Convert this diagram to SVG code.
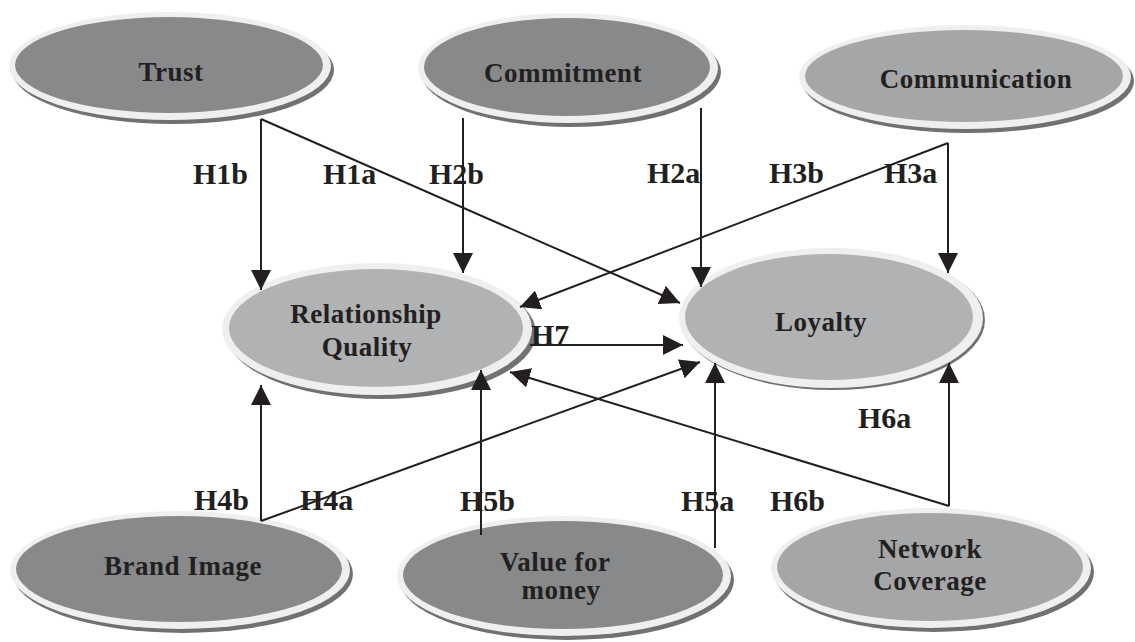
<svg xmlns="http://www.w3.org/2000/svg" width="1135" height="642" viewBox="0 0 1135 642">
<style>
.shadow{fill:#707173}
.rim{fill:#eeeff0}
.dark{fill:#88898b}
.mid{fill:#a5a6a8}
.light{fill:#b1b2b4}
.nt{font-family:"Liberation Serif",serif;font-weight:bold;font-size:27px;fill:#231f20;text-anchor:middle;letter-spacing:0.5px}
.lb{font-family:"Liberation Serif",serif;font-weight:bold;font-size:30px;fill:#231f20}
.ln{stroke:#231f20;stroke-width:2;fill:none}
.ar{marker-end:url(#ah)}
</style>
<defs>
<marker id="ah" viewBox="0 0 20 20" refX="20" refY="10" markerWidth="20" markerHeight="20" markerUnits="userSpaceOnUse" orient="auto">
<path d="M0,0 L20,10 L0,20 z" fill="#231f20"/>
</marker>
</defs>
<rect width="1135" height="642" fill="#ffffff"/>

<g id="trust">
<ellipse class="shadow" cx="173" cy="70" rx="161" ry="54"/>
<ellipse class="rim" cx="170" cy="66" rx="161" ry="54"/>
<ellipse class="dark" cx="169" cy="65" rx="154" ry="48"/>
<text class="nt" x="171" y="81">Trust</text>
</g>
<g id="commitment">
<ellipse class="shadow" cx="571" cy="72" rx="150" ry="55"/>
<ellipse class="rim" cx="568" cy="68" rx="150" ry="55"/>
<ellipse class="dark" cx="567" cy="67" rx="143" ry="49"/>
<text class="nt" x="563" y="82">Commitment</text>
</g>
<g id="communication">
<ellipse class="shadow" cx="968" cy="81" rx="166" ry="52"/>
<ellipse class="rim" cx="965" cy="77" rx="166" ry="52"/>
<ellipse class="mid" cx="964" cy="76" rx="159" ry="46"/>
<text class="nt" x="976" y="88">Communication</text>
</g>
<g id="relationship-quality">
<ellipse class="shadow" cx="381" cy="333" rx="155" ry="66"/>
<ellipse class="rim" cx="377" cy="329" rx="155" ry="66"/>
<ellipse class="light" cx="376" cy="328" rx="147" ry="59"/>
<text class="nt" x="366" y="323">Relationship</text>
<text class="nt" x="367" y="356">Quality</text>
</g>
<g id="loyalty">
<ellipse class="shadow" cx="833" cy="320" rx="152" ry="70"/>
<ellipse class="rim" cx="831" cy="318" rx="152" ry="70"/>
<ellipse class="light" cx="829" cy="317" rx="144" ry="63"/>
<text class="nt" x="821" y="331">Loyalty</text>
</g>
<g id="brand-image">
<ellipse class="shadow" cx="183" cy="574" rx="170" ry="59"/>
<ellipse class="rim" cx="180" cy="570" rx="170" ry="59"/>
<ellipse class="dark" cx="179" cy="569" rx="163" ry="53"/>
<text class="nt" x="183" y="575">Brand Image</text>
</g>
<g id="value-for-money">
<ellipse class="shadow" cx="567" cy="580" rx="167" ry="60"/>
<ellipse class="rim" cx="564" cy="576" rx="167" ry="60"/>
<ellipse class="dark" cx="563" cy="575" rx="160" ry="54"/>
<text class="nt" x="555" y="571">Value for</text>
<text class="nt" x="561" y="599">money</text>
</g>
<g id="network-coverage">
<ellipse class="shadow" cx="934" cy="572" rx="160" ry="60"/>
<ellipse class="rim" cx="931" cy="568" rx="160" ry="60"/>
<ellipse class="mid" cx="930" cy="567" rx="153" ry="54"/>
<text class="nt" x="930" y="558">Network</text>
<text class="nt" x="930" y="590">Coverage</text>
</g>

<g id="labels">
<text class="lb" x="193" y="184">H1b</text>
<text class="lb" x="323" y="184">H1a</text>
<text class="lb" x="429" y="184">H2b</text>
<text class="lb" x="647" y="183">H2a</text>
<text class="lb" x="769" y="183">H3b</text>
<text class="lb" x="884" y="183">H3a</text>
<text class="lb" x="531" y="345">H7</text>
<text class="lb" x="858" y="428">H6a</text>
<text class="lb" x="194" y="510">H4b</text>
<text class="lb" x="300" y="510">H4a</text>
<text class="lb" x="460" y="511">H5b</text>
<text class="lb" x="681" y="511">H5a</text>
<text class="lb" x="770" y="511">H6b</text>
</g>

<g id="connectors">
<line class="ln ar" x1="261" y1="119" x2="261" y2="290"/>
<line class="ln ar" x1="261" y1="119" x2="680" y2="303"/>
<line class="ln ar" x1="463" y1="118" x2="463" y2="273"/>
<line class="ln ar" x1="701" y1="108" x2="701" y2="287"/>
<line class="ln ar" x1="948" y1="143" x2="948" y2="273"/>
<line class="ln ar" x1="948" y1="143" x2="520" y2="307"/>
<line class="ln ar" x1="530" y1="345" x2="683" y2="345"/>
<line class="ln ar" x1="261" y1="521" x2="261" y2="385"/>
<line class="ln ar" x1="261" y1="521" x2="700" y2="362"/>
<line class="ln ar" x1="481" y1="535" x2="481" y2="370"/>
<line class="ln ar" x1="715" y1="548" x2="715" y2="363"/>
<line class="ln ar" x1="949" y1="506" x2="949" y2="363"/>
<line class="ln ar" x1="949" y1="506" x2="510" y2="372"/>
</g>
</svg>
